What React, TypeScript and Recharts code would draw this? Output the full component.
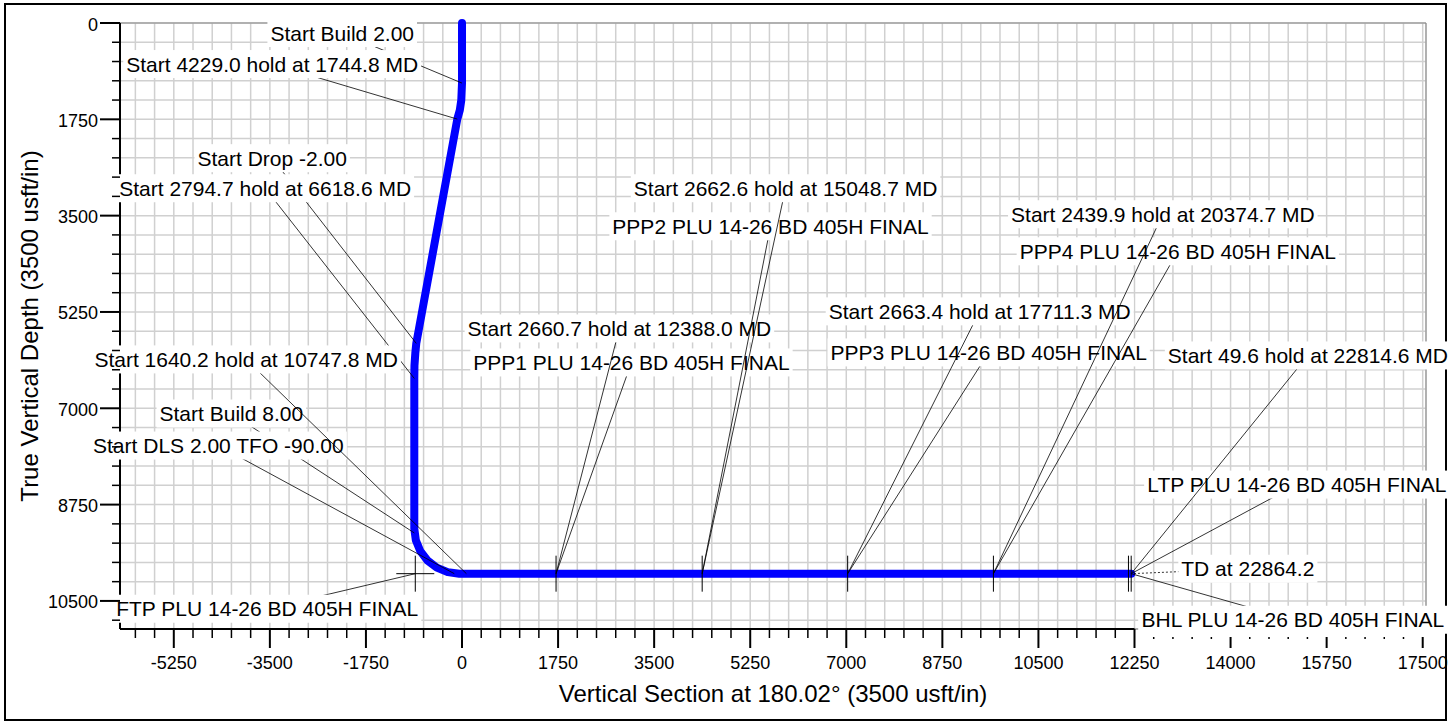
import React from "react"
import { ComposedChart, Line, Scatter, XAxis, YAxis, CartesianGrid, ReferenceLine } from "recharts"

const FONT = '"Liberation Sans", Arial, sans-serif'

// axis extents (usft)
const X_MIN = -6230
const X_MAX = 17560
const Y_MAX = 11010
const X_AXIS_END = 12250

const xLabels = [-5250, -3500, -1750, 0, 1750, 3500, 5250, 7000, 8750, 10500, 12250, 14000, 15750, 17500]
const yLabels = [0, 1750, 3500, 5250, 7000, 8750, 10500]
const minorStep = 350

// well path: vertical section vs true vertical depth
const pathVS = [0, 0, -13, -40, -86, -833, -851, -866, -869, -869, -841, -759, -629, -459, -261, -49, 12190]
const pathTVD = [0, 1092, 1401, 1583, 1746, 5821, 6003, 6222, 6458, 9187, 9399, 9596, 9765, 9895, 9977, 10005, 10005]

// target markers on the lateral
const markerName = ["FTP", "PPP1", "PPP2", "PPP3", "PPP4", "LTP", "BHL"]
const markerVS = [-851, 1713, 4375, 7025, 9680, 12140, 12190]
const markerTVD = [10005, 10005, 10005, 10005, 10005, 10005, 10005]

// annotations, in drawing order: text, label centre, point on the path
const noteText = [
  "Start Build 2.00",
  "Start 4229.0 hold at 1744.8 MD",
  "Start Drop -2.00",
  "Start 2794.7 hold at 6618.6 MD",
  "Start Build 8.00",
  "Start DLS 2.00 TFO -90.00",
  "Start 1640.2 hold at 10747.8 MD",
  "FTP PLU 14-26 BD 405H FINAL",
  "PPP1 PLU 14-26 BD 405H FINAL",
  "Start 2660.7 hold at 12388.0 MD",
  "PPP2 PLU 14-26 BD 405H FINAL",
  "Start 2662.6 hold at 15048.7 MD",
  "PPP3 PLU 14-26 BD 405H FINAL",
  "Start 2663.4 hold at 17711.3 MD",
  "PPP4 PLU 14-26 BD 405H FINAL",
  "Start 2439.9 hold at 20374.7 MD",
  "LTP PLU 14-26 BD 405H FINAL",
  "Start 49.6 hold at 22814.6 MD",
  "TD at 22864.2",
  "BHL PLU 14-26 BD 405H FINAL",
]
const noteVS = [-2182, -3458, -3458, -3586, -4202, -4439, -3932, -3549, 3087, 2867, 5620, 5894, 9594, 9430, 13039, 12766, 15209, 15409, 14315, 15136]
const noteTVD = [182, 746, 2456, 3002, 7095, 7677, 6112, 10642, 6167, 5549, 3693, 3002, 5985, 5239, 4148, 3475, 8386, 6040, 9915, 10842]
const noteAtVS = [0, -86, -833, -869, -869, -140, 80, -851, 1713, 1713, 4375, 4375, 7025, 7025, 9680, 9680, 12190, 12190, 12190, 12190]
const noteAtTVD = [1092, 1746, 5821, 6458, 9265, 10005, 10005, 10005, 10005, 10005, 10005, 10005, 10005, 10005, 10005, 10005, 10005, 10005, 10005, 10005]

const range = (from: number, to: number, step: number) => {
  const out: number[] = []
  for (let v = from; v <= to; v += step) out.push(v)
  return out
}

const xTicks = range(-5950, 17500, minorStep)
const yTicks = range(0, 10850, minorStep)
const majorX = [...xLabels, X_MAX]

const pathData = pathVS.map((vs, i) => ({ vs, tvd: pathTVD[i] }))
const markerData = markerVS.map((vs, i) => ({ vs, tvd: markerTVD[i], name: markerName[i] }))

let ctx: CanvasRenderingContext2D | null = null
function textWidth(s: string, size: number) {
  if (!ctx) ctx = document.createElement("canvas").getContext("2d")
  if (!ctx) return s.length * size * 0.55
  ctx.font = `${size}px ${FONT}`
  return ctx.measureText(s).width
}

const NOTE_SIZE = 21

function NoteShape(props: any) {
  const { cx, cy, payload } = props
  if (!payload || !payload.text) return <g />
  const w = textWidth(payload.text, NOTE_SIZE)
  return (
    <g>
      <rect x={cx - w / 2 - 3} y={cy - 14} width={w + 6} height={28} fill="#fff" />
      <text x={cx} y={cy + 7.5} textAnchor="middle" fontSize={NOTE_SIZE} fontFamily={FONT} fill="#000">
        {payload.text}
      </text>
    </g>
  )
}

function MarkerShape(props: any) {
  const { cx, cy, payload } = props
  return (
    <g stroke="#000" strokeWidth={1}>
      <line x1={cx} y1={cy - 18} x2={cx} y2={cy + 18} />
      {payload.name === "FTP" && <line x1={cx - 19} y1={cy} x2={cx + 19} y2={cy} />}
    </g>
  )
}

function XTick(props: any) {
  const { x, y, payload } = props
  const v = payload.value
  const major = v % 1750 === 0
  const past = v > X_AXIS_END
  return (
    <g>
      {major ? (
        <line x1={x} y1={past ? y + 8 : y} x2={x} y2={y + 19} stroke="#000" strokeWidth={2} />
      ) : (
        <line x1={x} y1={past ? y + 8 : y} x2={x} y2={past ? y + 10 : y + 9} stroke="#000" strokeWidth={1.5} />
      )}
      {major && (
        <text x={x} y={y + 39.5} textAnchor="middle" fontSize={18} fontFamily={FONT} fill="#000">
          {v}
        </text>
      )}
    </g>
  )
}

function YTick(props: any) {
  const { x, y, payload } = props
  const v = payload.value
  const major = v % 1750 === 0
  return (
    <g>
      <line x1={major ? x - 20 : x - 8} y1={y} x2={x} y2={y} stroke="#000" strokeWidth={major ? 2 : 1.5} />
      {major && (
        <text x={x - 22} y={y + 7.5} textAnchor="end" fontSize={18} fontFamily={FONT} fill="#000">
          {v}
        </text>
      )}
    </g>
  )
}

function YTitle(props: any) {
  const { viewBox } = props
  const cy = viewBox.y + viewBox.height / 2
  const x = 37.5
  return (
    <text x={x} y={cy} transform={`rotate(-90 ${x} ${cy})`} textAnchor="middle" fontSize={24} fontFamily={FONT} fill="#000">
      True Vertical Depth (3500 usft/in)
    </text>
  )
}

function XTitle(props: any) {
  const { viewBox } = props
  const cx = viewBox.x + viewBox.width / 2
  return (
    <text x={cx} y={702} textAnchor="middle" fontSize={24} fontFamily={FONT} fill="#000">
      Vertical Section at 180.02° (3500 usft/in)
    </text>
  )
}

export default function App() {
  return (
    <div style={{ position: "absolute", left: 0, top: 0, width: 1456, height: 724, background: "#fff" }}>
      <div
        style={{
          position: "absolute",
          left: 4,
          top: 3,
          width: 1443,
          height: 718,
          border: "2px solid #000",
          boxSizing: "border-box",
        }}
      />
      <div style={{ position: "absolute", left: 0, top: 0 }}>
        <ComposedChart width={1456} height={724} margin={{ top: 23, right: 30, bottom: 0, left: 0 }}>
          <CartesianGrid stroke="#d0d0d0" strokeWidth={1.5} />
          <XAxis xAxisId="maj" type="number" dataKey="vs" domain={[X_MIN, X_MAX]} ticks={majorX} hide />
          <YAxis yAxisId="maj" type="number" dataKey="tvd" domain={[0, Y_MAX]} ticks={yLabels} reversed hide />
          <CartesianGrid xAxisId="maj" yAxisId="maj" stroke="#858585" strokeWidth={1} />
          <XAxis
            type="number"
            dataKey="vs"
            domain={[X_MIN, X_MAX]}
            ticks={xTicks}
            interval={0}
            height={95}
            tickSize={0}
            tickMargin={0}
            tickLine={false}
            axisLine={false}
            tick={<XTick />}
            label={{ content: <XTitle /> }}
          />
          <YAxis
            type="number"
            dataKey="tvd"
            domain={[0, Y_MAX]}
            ticks={yTicks}
            interval={0}
            reversed
            width={120}
            tickSize={0}
            tickMargin={0}
            tickLine={false}
            axisLine={{ stroke: "#000", strokeWidth: 2 }}
            tick={<YTick />}
            label={{ content: <YTitle /> }}
          />
          <ReferenceLine
            segment={[
              { x: X_MIN, y: Y_MAX },
              { x: X_AXIS_END, y: Y_MAX },
            ]}
            stroke="#000"
            strokeWidth={2}
            ifOverflow="visible"
          />
          <Line
            data={pathData}
            dataKey="tvd"
            type="linear"
            stroke="#0000ff"
            strokeWidth={8}
            strokeLinecap="round"
            strokeLinejoin="round"
            dot={false}
            activeDot={false}
            isAnimationActive={false}
          />
          <Scatter data={markerData} shape={<MarkerShape />} isAnimationActive={false} />
          {noteText.map((text, i) => (
            <Scatter
              key={text}
              data={[
                { vs: noteVS[i], tvd: noteTVD[i], text },
                { vs: noteAtVS[i], tvd: noteAtTVD[i] },
              ]}
              fill="#000"
              line={{
                stroke: "#000",
                strokeWidth: 0.8,
                strokeDasharray: text.startsWith("TD") ? "2 2" : undefined,
              }}
              shape={<NoteShape />}
              isAnimationActive={false}
            />
          ))}
        </ComposedChart>
      </div>
    </div>
  )
}
